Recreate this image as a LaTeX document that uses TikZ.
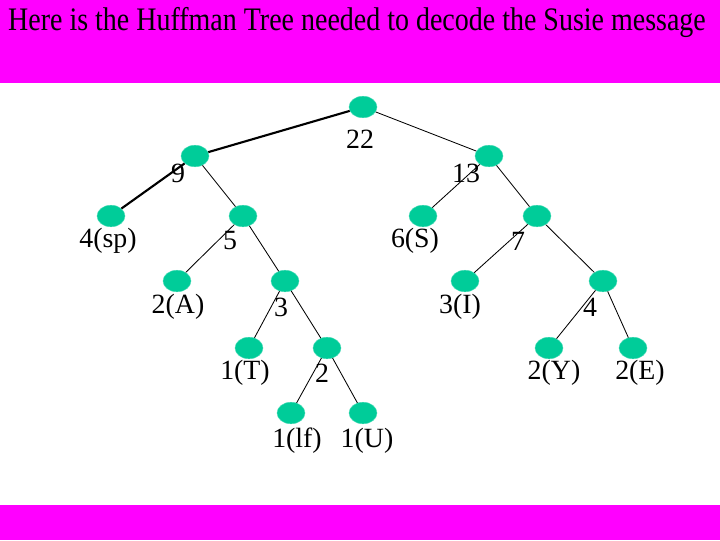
\documentclass[tikz,border=0pt]{standalone}
\usepackage{fontspec}
\setmainfont{Liberation Serif}
\usetikzlibrary{shapes.geometric}
\definecolor{band}{RGB}{255,0,255}
\definecolor{leafgreen}{RGB}{0,204,153}

\begin{document}
\begin{tikzpicture}[x=0.025cm,y=-0.025cm,
  knot/.style={ellipse,fill=leafgreen,draw=leafgreen!70!white,line width=0.3pt,
               minimum width=0.7cm,minimum height=0.54cm,inner sep=0pt},
  weight/.style={anchor=center,inner sep=0pt,font=\fontsize{19.8}{22}\selectfont},
  branch/.style={line width=0.6pt},
  hot/.style={line width=1.5pt}]
 \useasboundingbox (0,0) rectangle (720,540);
 % bands top and bottom
 \fill[band] (0,0) rectangle (720,83);
 \fill[band] (0,505) rectangle (720,540);
 \node[anchor=center,inner sep=0pt,font=\fontsize{20.3}{24}\selectfont] (title) at (357,22)
   {\scalebox{0.98}[1.15]{Here is the Huffman Tree needed to decode the Susie message}};

 % the nodes of the tree
 \draw (363,107) node[knot](n22){};
 \draw (195,156) node[knot](n9){};
 \draw (489,156) node[knot](n13){};
 \draw (111,216) node[knot](nsp){};
 \draw (243,216) node[knot](n5){};
 \draw (423,216) node[knot](nS){};
 \draw (537,216) node[knot](n7){};
 \draw (177,281) node[knot](nA){};
 \draw (285,281) node[knot](n3){};
 \draw (465,281) node[knot](nI){};
 \draw (603,281) node[knot](n4){};
 \draw (249,348) node[knot](nT){};
 \draw (327,348) node[knot](n2){};
 \draw (549,348) node[knot](nY){};
 \draw (633,348) node[knot](nE){};
 \draw (291,413) node[knot](nlf){};
 \draw (363,413) node[knot](nU){};

 % the weights
 \node[weight] (l22) at (360,139) {22};
 \node[weight] (l9) at (178,173) {9};
 \node[weight] (l13) at (466,173) {13};
 \node[weight] (lsp) at (108,241) {4(sp)};
 \node[weight] (l5) at (230,241) {5};
 \node[weight] (lS) at (415,241) {6(S)};
 \node[weight] (l7) at (518,241) {7};
 \node[weight] (lA) at (178,307) {2(A)};
 \node[weight] (l3) at (281,307) {3};
 \node[weight] (lI) at (460,307) {3(I)};
 \node[weight] (l4) at (590,307) {4};
 \node[weight] (lT) at (245,373) {1(T)};
 \node[weight] (l2) at (322,373) {2};
 \node[weight] (lY) at (554,373) {2(Y)};
 \node[weight] (lE) at (640,373) {2(E)};
 \node[weight] (llf) at (297,441) {1(lf)};
 \node[weight] (lU) at (367,441) {1(U)};

 % branches
 \draw[hot] (n22) -- (n9);
 \draw[hot] (n9) -- (nsp);
 \draw[branch] (n22) -- (n13);
 \draw[branch] (n9) -- (n5);
 \draw[branch] (n13) -- (nS);
 \draw[branch] (n13) -- (n7);
 \draw[branch] (n5) -- (nA);
 \draw[branch] (n5) -- (n3);
 \draw[branch] (n7) -- (nI);
 \draw[branch] (n7) -- (n4);
 \draw[branch] (n3) -- (nT);
 \draw[branch] (n3) -- (n2);
 \draw[branch] (n4) -- (nY);
 \draw[branch] (n4) -- (nE);
 \draw[branch] (n2) -- (nlf);
 \draw[branch] (n2) -- (nU);

\end{tikzpicture}
\end{document}
